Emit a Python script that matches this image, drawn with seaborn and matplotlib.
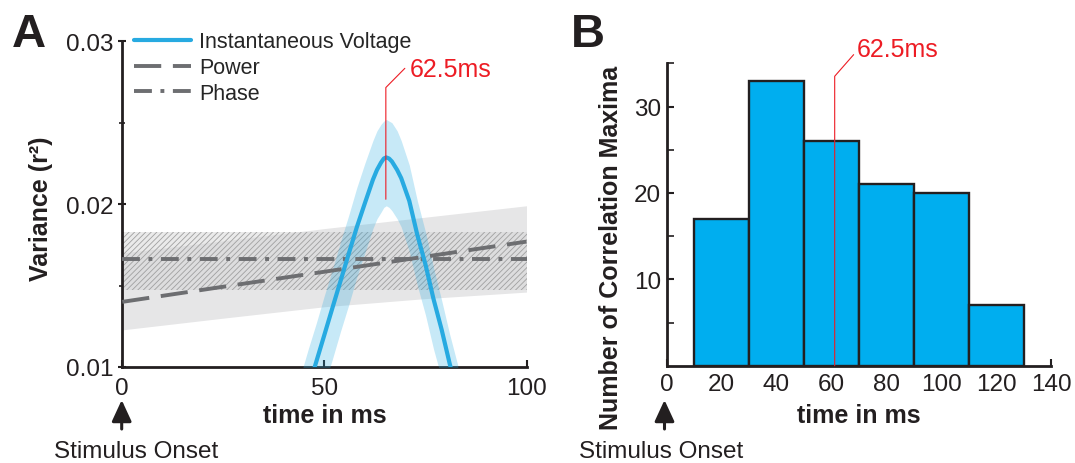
import numpy as np
import pandas as pd
import matplotlib
matplotlib.use("Agg")
import matplotlib.pyplot as plt
import seaborn as sns

# ---------------- data ----------------
# Panel A: instantaneous voltage curve (ms, r^2) and its band
volt_t = [44, 46, 48, 50, 52, 54, 56, 58, 60, 62, 63, 64, 64.7, 65.3, 66, 66.7, 68, 69, 71, 73, 75, 77, 79, 81, 83]
volt_v = [0.00702, 0.00868, 0.01033, 0.01198, 0.01364, 0.01529, 0.01694, 0.01857, 0.02005, 0.0215,
          0.0221, 0.02255, 0.0228, 0.02287, 0.0228, 0.02262, 0.0221, 0.0216, 0.0202, 0.0181, 0.0163,
          0.01417, 0.0123, 0.0102, 0.0083]
volt_hi = [0.0094, 0.0111, 0.0127, 0.0144, 0.0160, 0.0177, 0.0193, 0.0210, 0.0225, 0.0239,
           0.0245, 0.0249, 0.0251, 0.0252, 0.0251, 0.0250, 0.0245, 0.0239, 0.0224, 0.0202, 0.0183,
           0.0161, 0.0141, 0.0120, 0.0101]
volt_lo = [0.0039, 0.0056, 0.0072, 0.0089, 0.0105, 0.0122, 0.0138, 0.0155, 0.0170, 0.0185,
           0.0191, 0.0195, 0.0198, 0.0199, 0.0198, 0.0196, 0.0191, 0.0186, 0.0171, 0.0150, 0.0132,
           0.0111, 0.0093, 0.0073, 0.0054]

# Power
power_t = [0, 25, 50, 75, 100]
power_v = [0.0140, 0.01493, 0.01585, 0.01678, 0.0177]
power_lo = [0.01228, 0.0130, 0.0137, 0.0142, 0.0146]
power_hi = [0.0170, 0.01775, 0.0185, 0.0192, 0.0199]

# Phase
phase_t = [0, 100]
phase_v = [0.01665, 0.01665]
phase_lo = [0.01472, 0.01472]
phase_hi = [0.01828, 0.01828]

legend_labels = ["Instantaneous Voltage", "Power", "Phase"]
peak_label = "62.5ms"

# Panel B: histogram of correlation maxima
bin_edges = [10, 30, 50, 70, 90, 110, 130]
bin_centers = [20, 40, 60, 80, 100, 120]
bin_counts = [17, 33, 26, 21, 20, 7]

# ---------------- style ----------------
sns.set_style("ticks")
plt.rcParams["font.family"] = ["Liberation Sans", "DejaVu Sans"]
plt.rcParams["hatch.linewidth"] = 0.6

W, H = 1075, 464
BLACK = "#231f20"
GRAY = "#6d6e71"
BLUE = "#27aae1"
RED = "#ed1c24"
BARBLUE = "#00aeef"


def px(x, y):
    return (x / W, 1 - y / H)


fig = plt.figure(figsize=(W / 100, H / 100), dpi=100)
axA = fig.add_axes([122.3 / W, 1 - 368 / H, (526.5 - 122.3) / W, (368 - 42.3) / H])
axB = fig.add_axes([666.7 / W, 1 - 366.7 / H, (1051 - 666.7) / W, (366.7 - 64.3) / H])

# ---------------- Panel A ----------------
axA.fill_between(power_t, power_lo, power_hi, color="#e6e6e7", linewidth=0, zorder=1)
axA.fill_between(phase_t, phase_lo, phase_hi, facecolor=(0.84, 0.84, 0.84, 0.5),
                 edgecolor="#a0a0a0", hatch="//////", linewidth=0, zorder=2)
axA.fill_between(volt_t, volt_lo, volt_hi, color=BLUE, alpha=0.26, linewidth=0, zorder=3)

sns.lineplot(x=phase_t, y=phase_v, ax=axA, color=GRAY, linewidth=2.8, zorder=4)
l_phase = axA.lines[-1]
l_phase.set_dashes((4.6, 2.2, 1.0, 2.2))
sns.lineplot(x=power_t, y=power_v, ax=axA, color=GRAY, linewidth=2.8, zorder=4)
l_power = axA.lines[-1]
l_power.set_dashes((7.0, 3.0))
sns.lineplot(x=volt_t, y=volt_v, ax=axA, color=BLUE, linewidth=3.0, zorder=5)
l_volt = axA.lines[-1]

axA.set_xlim(0, 100)
axA.set_ylim(0.01, 0.03)
axA.set_xticks([0, 50, 100])
axA.set_xticklabels(["0", "50", "100"])
axA.set_yticks([0.01, 0.02, 0.03])
axA.set_yticklabels(["0.01", "0.02", "0.03"])
axA.set_yticks([0.015, 0.025], minor=True)
axA.tick_params(axis="y", which="major", direction="inout", length=6, width=1.5,
                labelsize=17.5, pad=3, colors=BLACK)
axA.tick_params(axis="y", which="minor", direction="inout", length=5, width=1.2, colors=BLACK)
axA.tick_params(axis="x", which="major", direction="in", length=5, width=1.5,
                labelsize=17.5, pad=7, colors=BLACK)
for s in ["top", "right"]:
    axA.spines[s].set_visible(False)
for s in ["left", "bottom"]:
    axA.spines[s].set_linewidth(2.0)
    axA.spines[s].set_color(BLACK)
axA.set_xlabel("")
axA.set_ylabel("")

leg = axA.legend([l_volt, l_power, l_phase], legend_labels, loc="upper left",
                 bbox_to_anchor=px(134, 32.5), bbox_transform=fig.transFigure,
                 frameon=False, fontsize=15.5, handlelength=2.65, handletextpad=0.37,
                 labelspacing=0.22, borderpad=0, borderaxespad=0)

# red annotation A
axA.plot([65.2, 65.2, 69.9], [0.0203, 0.02716, 0.02834], color=RED, linewidth=0.8,
         clip_on=False, zorder=6)
axA.text(71.0, 0.02831, peak_label, color=RED, fontsize=18, ha="left", va="center",
         clip_on=False)

# ---------------- Panel B ----------------
sns.histplot(x=bin_centers, weights=bin_counts, bins=bin_edges, ax=axB, color=BARBLUE,
             edgecolor=BLACK, linewidth=1.7, alpha=1.0, zorder=2)
axB.set_xlim(0, 140)
axB.set_ylim(0, 35)
axB.set_xticks([0, 20, 40, 60, 80, 100, 120, 140])
axB.set_yticks([10, 20, 30])
axB.set_yticks([5, 15, 25, 35], minor=True)
axB.tick_params(axis="both", which="major", direction="in", length=5, width=1.5,
                labelsize=17.5, colors=BLACK)
axB.tick_params(axis="x", which="major", pad=5)
axB.tick_params(axis="y", which="major", pad=4)
axB.tick_params(axis="y", which="minor", direction="in", length=5, width=1.2, colors=BLACK)
for s in ["top", "right"]:
    axB.spines[s].set_visible(False)
for s in ["left", "bottom"]:
    axB.spines[s].set_linewidth(2.0)
    axB.spines[s].set_color(BLACK)
axB.set_xlabel("")
axB.set_ylabel("")

axB.plot([61.2, 61.2, 68.1], [0, 33.5, 36.0], color=RED, linewidth=0.8, clip_on=False, zorder=6)
axB.text(69.1, 36.6, peak_label, color=RED, fontsize=18, ha="left", va="center", clip_on=False)

# ---------------- figure-level text ----------------
fig.text(*px(12, 47), "A", fontsize=34, fontweight="bold", color=BLACK, ha="left", va="baseline")
fig.text(*px(571, 47), "B", fontsize=34, fontweight="bold", color=BLACK, ha="left", va="baseline")

fig.text(*px(41, 209), "Variance (r²)", fontsize=18, fontweight="bold", rotation=90,
         ha="center", va="center", color=BLACK)
fig.text(*px(611.5, 248), "Number of Correlation Maxima", fontsize=18, fontweight="bold",
         rotation=90, ha="center", va="center", color=BLACK)

fig.text(*px(324.5, 423), "time in ms", fontsize=18, fontweight="bold", ha="center",
         va="baseline", color=BLACK)
fig.text(*px(859, 423), "time in ms", fontsize=18, fontweight="bold", ha="center",
         va="baseline", color=BLACK)

for xc, xt in [(121.7, 136), (664.5, 661)]:
    axA.annotate("", xy=px(xc, 401), xycoords="figure fraction",
                 xytext=px(xc, 430), textcoords="figure fraction",
                 arrowprops=dict(arrowstyle="-|>,head_length=1.3,head_width=0.6",
                                 mutation_scale=10, lw=2.2, color=BLACK,
                                 shrinkA=0, shrinkB=0),
                 annotation_clip=False)
    fig.text(*px(xt, 458), "Stimulus Onset", fontsize=17.5, ha="center", va="baseline", color=BLACK)

fig.savefig("out.png", dpi=100)
